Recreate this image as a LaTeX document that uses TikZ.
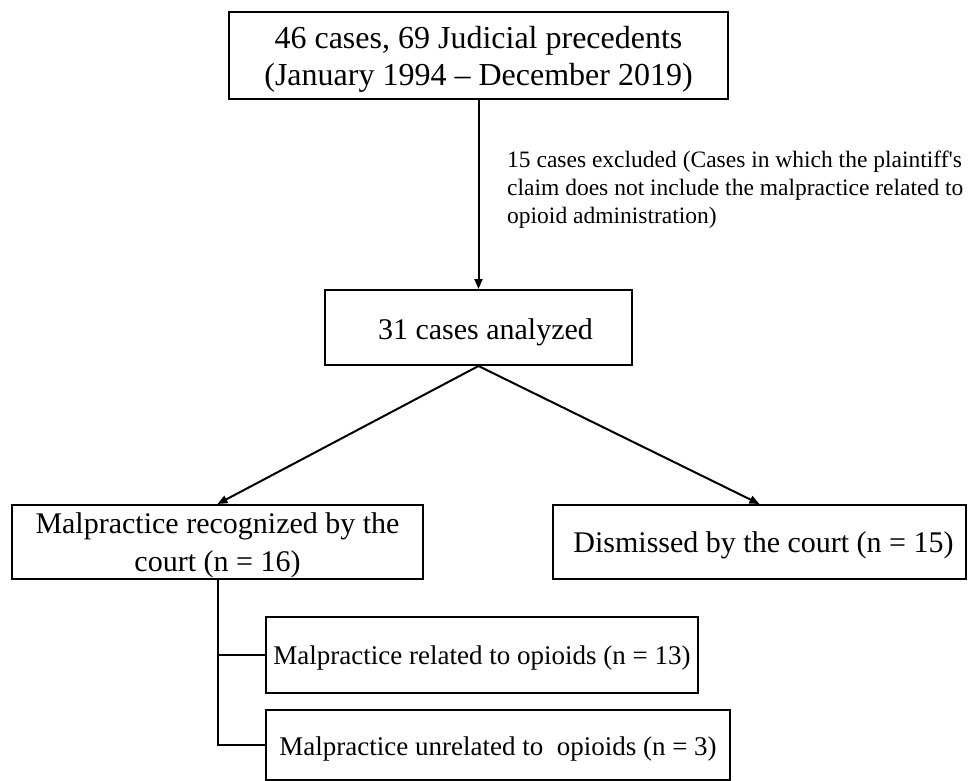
\documentclass[tikz,border=0pt]{standalone}
\usepackage{fontspec}
\setmainfont{Liberation Serif}
\usetikzlibrary{arrows.meta}
\begin{document}
\begin{tikzpicture}[x=1pt,y=-1pt,
  box/.style={draw=black,line width=2pt,inner sep=0pt,anchor=center},
  txt/.style={inner sep=0pt,align=center,anchor=center},
  big/.style={txt,font=\fontsize{32}{37}\selectfont},
  mid/.style={txt,font=\fontsize{30}{38}\selectfont},
  sml/.style={txt,font=\fontsize{27}{31}\selectfont},
  note/.style={font=\fontsize{23.5}{28}\selectfont,align=left,anchor=north west,inner sep=0pt},
  conn/.style={line width=2pt},
  arr/.style={line width=2pt,-{Triangle[length=10pt,width=8pt]}}]
\useasboundingbox[fill=white] (0,0) rectangle (974,780);
% boxes
\node[box,minimum width=499pt,minimum height=87pt] (top) at (478.5,55.5) {};
\node[box,minimum width=307pt,minimum height=75pt] (ana) at (478.5,327.5) {};
\node[box,minimum width=411pt,minimum height=74pt] (rec) at (217.5,542) {};
\node[box,minimum width=413pt,minimum height=74pt] (dis) at (759.5,542) {};
\node[box,minimum width=432pt,minimum height=76pt] (rel) at (482,655) {};
\node[box,minimum width=464pt,minimum height=70pt] (unr) at (498,745) {};
% texts
\node[big] (topt) at ([yshift=-4pt]top.center) {46 cases, 69 Judicial precedents\\(January 1994 -- December 2019)};
\node[note] (excl) at (507,151) {15 cases excluded (Cases in which the plaintiff\textquotesingle s\\claim does not include the malpractice related to\\opioid administration)};
\node[mid] (anat) at ([xshift=7pt,yshift=-5pt]ana.center) {31 cases analyzed};
\node[mid] (rect) at ([yshift=-3pt]rec.center) {Malpractice recognized by the\\court (n = 16)};
\node[mid] (dist) at ([xshift=4pt,yshift=-3pt]dis.center) {Dismissed by the court (n = 15)};
\node[sml] (relt) at ([yshift=-3pt]rel.center) {Malpractice related to opioids (n = 13)};
\node[sml] (unrt) at ([yshift=-4pt]unr.center) {Malpractice unrelated to \ opioids (n = 3)};
% connectors
\draw[arr] (top.south) -- (ana.north);
\draw[arr] (ana.south) -- (rec.north);
\draw[arr] (ana.south) -- (dis.north);
\draw[conn] (rec.south) -- (rec.south |- unr.west) -- (unr.west);
\draw[conn] (rec.south |- rel.west) -- (rel.west);
\end{tikzpicture}
\end{document}
